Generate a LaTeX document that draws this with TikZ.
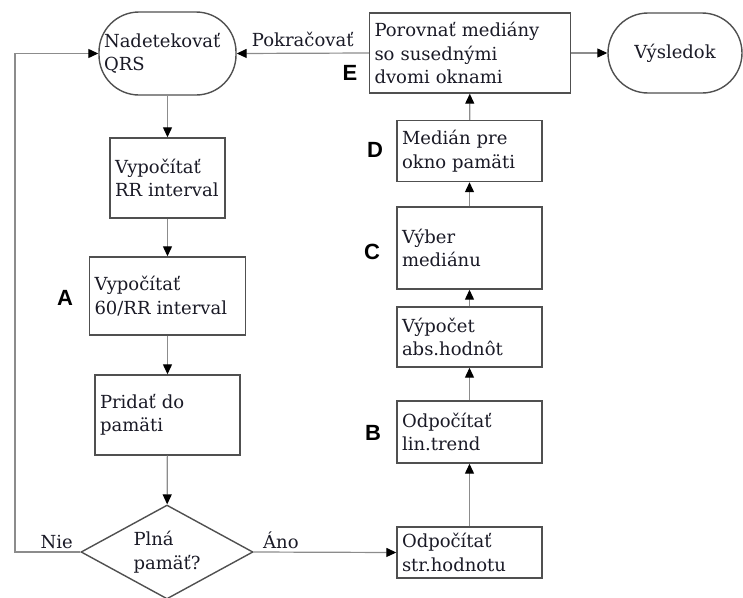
\documentclass[tikz,border=0pt]{standalone}
\usepackage{fontspec}
\setmainfont{DejaVu Serif}
\newfontfamily\tagfont{Liberation Sans}
\usetikzlibrary{shapes.geometric, arrows.meta, positioning}
\definecolor{boxGray}{HTML}{505050}
\definecolor{lineGray}{HTML}{8C8C8C}
\definecolor{inkDark}{HTML}{1A1A26}

\begin{document}
\begin{tikzpicture}[x=1pt, y=-1pt,
  stepbox/.style={draw=boxGray, line width=1.4pt, fill=white, inner sep=5pt, align=left, text=inkDark, font=\fontsize{18}{23.5}\selectfont},
  termbox/.style={stepbox, rounded corners=40pt},
  decbox/.style={stepbox, diamond, aspect=1.83, inner sep=0pt},
  tag/.style={font=\tagfont\bfseries\fontsize{22}{22}\selectfont, text=black},
  note/.style={text=inkDark, font=\fontsize{18}{23}\selectfont},
  link/.style={draw=lineGray, line width=1.2pt, -{Triangle[length=10pt, width=9pt, color=black]}}
]
  \useasboundingbox (0,0) rectangle (743,597);

  % left column
  \node[termbox, text width=127pt, minimum height=83pt] (start) at (167.5,53.5) {Nadetekovať\\QRS};
  \node[stepbox, text width=105pt, minimum height=80pt] (rr) at (167.5,178) {Vypočítať\\RR interval};
  \node[stepbox, text width=146pt, minimum height=78pt] (rate) at (167.5,296) {Vypočítať\\60/RR interval};
  \node[stepbox, text width=135pt, minimum height=80pt] (store) at (167.5,415) {Pridať do\\pamäti};
  \node[decbox, minimum width=172pt, minimum height=94pt] (full) at (167,552) {Plná\\pamäť?};

  % right column
  \node[stepbox, text width=135pt, minimum height=51pt] (mean) at (469.5,552.5) {Odpočítať\\str.hodnotu};
  \node[stepbox, text width=135pt, minimum height=62pt] (trend) at (469.5,432) {Odpočítať\\lin.trend};
  \node[stepbox, text width=135pt, minimum height=60pt] (absval) at (469.5,337) {Výpočet\\abs.hodnôt};
  \node[stepbox, text width=135pt, minimum height=82pt] (pick) at (469.5,248) {Výber\\mediánu};
  \node[stepbox, text width=135pt, minimum height=61pt] (median) at (469.5,151) {Medián pre\\okno pamäti};
  \node[stepbox, text width=191pt, minimum height=80pt] (compare) at (470,53) {Porovnať mediány\\so susednými\\dvomi oknami};
  \node[termbox, align=center, minimum width=134pt, minimum height=80pt] (result) at (675,53) {Výsledok};

  % step tags
  \node[tag] (tagA) at (65,298) {A};
  \node[tag] (tagB) at (373,433) {B};
  \node[tag] (tagC) at (372,252) {C};
  \node[tag] (tagD) at (375,150) {D};
  \node[tag] (tagE) at (350,73) {E};

  \coordinate (loopB) at (15,552);
  \coordinate (loopT) at (15,53.5);

  \draw[link] (start) -- (rr);
  \draw[link] (rr) -- (rate);
  \draw[link] (rate) -- (store);
  \draw[link] (store) -- (full);
  \draw[link] (full.east) -- (mean.west);
  \draw[link] (mean) -- (trend);
  \draw[link] (trend) -- (absval);
  \draw[link] (absval) -- (pick);
  \draw[link] (pick) -- (median);
  \draw[link] (median) -- (compare);
  \draw[link] (compare) -- (result);
  \draw[link] (compare.west) -- node[note, above, yshift=3pt] (goon) {Pokračovať} (start.east);
  \draw[link] (full.west) -- (loopB) -- (loopT) -- (start.west);

  \node[note, above left=0pt and 4pt of full.west] (no) {Nie};
  \node[note, above right=0pt and 6pt of full.east] (yes) {Áno};
\end{tikzpicture}
\end{document}
